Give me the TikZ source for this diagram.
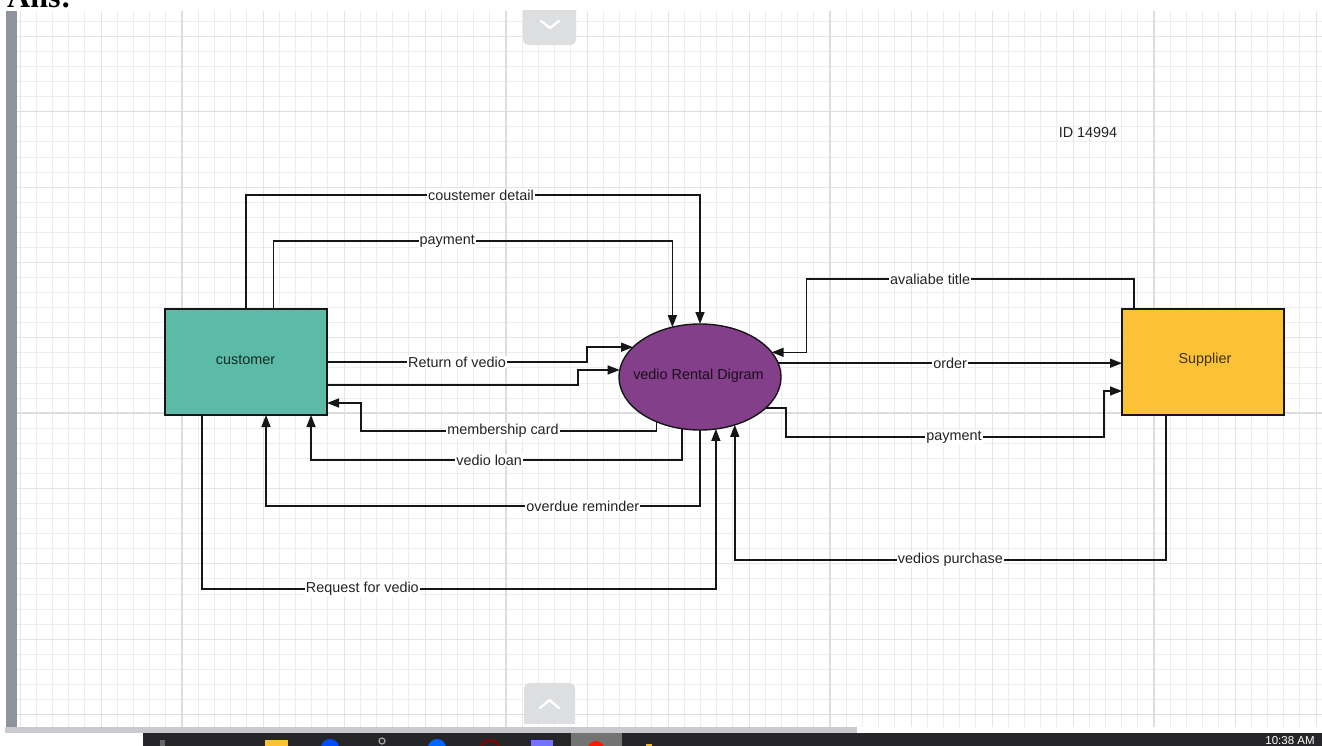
\documentclass[tikz,border=0pt]{standalone}
\usepackage{fontspec}
\setmainfont{Liberation Sans}
\newfontfamily\serifbold{Liberation Serif}
\usetikzlibrary{arrows.meta,shapes.geometric}
\definecolor{tealfill}{RGB}{91,187,166}
\definecolor{purpfill}{RGB}{131,63,137}
\definecolor{yellfill}{RGB}{251,194,56}
\definecolor{gridminor}{RGB}{237,237,237}
\definecolor{gridmed}{RGB}{229,229,229}
\definecolor{gridmajor}{RGB}{221,221,221}
\definecolor{linecol}{RGB}{22,22,22}
\definecolor{lblcol}{RGB}{35,35,35}
\definecolor{sidebar}{RGB}{143,147,158}
\definecolor{btncol}{RGB}{221,222,224}
\definecolor{thumbcol}{RGB}{200,202,207}
\definecolor{taskcol}{RGB}{38,38,40}
\begin{document}
\begin{tikzpicture}[x=1pt,y=-1pt,
  entity/.style={rectangle, draw=linecol, line width=1.4pt, minimum width=162pt, minimum height=106pt, inner sep=0pt, outer sep=0pt},
  proc/.style={ellipse, draw=linecol, line width=1.4pt, fill=purpfill, minimum width=162pt, minimum height=106pt, inner sep=0pt, outer sep=0pt},
  flow/.style={draw=linecol, line width=1.5pt, -{Triangle[length=12pt,width=9pt]}},
  lbl/.style={fill=white, inner sep=1pt, text=lblcol, font=\fontsize{14.4}{16}\selectfont},
  intext/.style={font=\fontsize{14.4}{16}\selectfont},
]
\useasboundingbox (0,0) rectangle (1322,746);
\fill[white] (0,0) rectangle (1322,746);

% cropped heading at the very top
\begin{scope}
  \clip (0,0) rectangle (1322,11);
  \node[anchor=base west, inner sep=0pt, font=\serifbold\bfseries\fontsize{32}{36}\selectfont] at (7,8) {Ans:};
\end{scope}

% grid
\foreach \k in {-10,...,70} { \draw[gridminor, line width=0.8pt] ({182+16.2*\k},11) -- ({182+16.2*\k},727); }
\foreach \k in {-6,...,40} { \draw[gridminor, line width=0.8pt] (17,{111.7+15.07*\k}) -- (1322,{111.7+15.07*\k}); }
\foreach \k in {-10,-5,...,70} { \draw[gridmed, line width=1pt] ({182+16.2*\k},11) -- ({182+16.2*\k},727); }
\foreach \k in {-5,0,...,40} { \draw[gridmed, line width=1pt] (17,{111.7+15.07*\k}) -- (1322,{111.7+15.07*\k}); }
\foreach \k in {0,20,40,60} { \draw[gridmajor, line width=1.3pt] ({182+16.2*\k},11) -- ({182+16.2*\k},727); }
\foreach \k in {0,20,40} { \draw[gridmajor, line width=1.3pt] (17,{111.7+15.07*\k}) -- (1322,{111.7+15.07*\k}); }

% left side bar
\fill[sidebar] (6,11) rectangle (17,727);

% scroll buttons
\begin{scope}
  \clip (0,11) rectangle (1322,723);
  \fill[btncol, rounded corners=6pt] (523,-5) rectangle (576,45);
  \fill[btncol, rounded corners=6pt] (524,683) rectangle (575,740);
\end{scope}
\draw[white, line width=2.4pt, line cap=round, line join=round] (541,21) -- (550,28) -- (559,21);
\draw[white, line width=2.4pt, line cap=round, line join=round] (540,708) -- (549.5,700) -- (559,708);

% scroll thumb
\fill[thumbcol] (5,727) rectangle (857,733);

% taskbar
\begin{scope}
  \clip (143,733) rectangle (1322,746);
  \fill[taskcol] (143,733) rectangle (1322,746);
  \fill[black!55!white] (571,733) rectangle (622,746);
  \fill[black!60!white] (160,740) rectangle (165,746);
  \fill[yellfill] (265,740) rectangle (288,748);
  \fill[blue!70!cyan] (330,748) circle (9);
  \draw[gray!70, line width=1.2pt] (382,741) circle (3);
  \fill[blue!60!cyan] (437,748) circle (9);
  \draw[red!55!black, line width=2pt] (490,749) circle (9);
  \fill[blue!55!white] (531,740) rectangle (553,748);
  \fill[red!80!orange] (596,749) circle (8);
  \fill[yellfill!80!brown] (646,744) rectangle (652,748);
  \node[text=white, inner sep=0pt, font=\fontsize{11.5}{12}\selectfont] at (1290,741) {10:38 AM};
\end{scope}

% nodes
\node[entity, fill=tealfill] (cust) at (246,362) {};
\node[intext, text=black, text opacity=0.78] at (245.5,360) {customer};
\node[proc] (ell) at (700,377) {};
\node[intext, text=black, text opacity=0.8] at (698.5,376) {vedio Rental Digram};
\node[entity, fill=yellfill] (sup) at (1203,362) {};
\node[intext, text=black, text opacity=0.75] at (1205,360) {Supplier};
\node[intext, text=lblcol] (idtxt) at (1088,133) {ID 14994};

% connectors customer -> process
\draw[flow] (cust.north) -- ++(0,-114) -| node[lbl, pos=0.2588] {coustemer detail} (ell.north);
\draw[flow] ([xshift=27.5pt]cust.north) -- ++(0,-68) -| node[lbl, pos=0.2177] {payment} (ell.119.4);
\draw[flow] (cust.east) -- node[lbl] {Return of vedio} ++(260,0) |- (ell.156.8);
\draw[flow] ([yshift=-23pt]cust.east) -- ++(251,0) |- (ell.175);

% connectors process -> customer
\draw[flow] (ell.226.2) |- node[lbl, pos=0.76] {membership card} (361,431) |- ([yshift=-41pt]cust.east);
\draw[flow] (ell.251.8) |- node[lbl, pos=0.76] {vedio loan} (311,460) -- ([xshift=65pt]cust.south);
\draw[flow] (ell.south) |- node[lbl, pos=0.635] {overdue reminder} (266,506) -- ([xshift=20pt]cust.south);
\draw[flow] ([xshift=-44pt]cust.south) -- ++(0,174) -| node[lbl, pos=0.156] {Request for vedio} (ell.287.1);

% supplier connectors
\draw[flow] ([xshift=-69pt]sup.north) -- ++(0,-30) -| node[lbl, pos=0.311] {avaliabe title} ([xshift=34.6pt]ell.19.3) -- (ell.19.3);
\draw[flow] (ell.10.2) -- node[lbl] {order} (ell.10.2 -| sup.west);
\draw[flow] (ell.335.8) -| (786,437) -| node[lbl, pos=0.264] {payment} ([xshift=-18pt,yshift=-29pt]sup.west) -- ([yshift=-29pt]sup.west);
\draw[flow] ([xshift=-37pt]sup.south) -- ++(0,145) -| node[lbl, pos=0.25] {vedios purchase} (ell.306.2);
\end{tikzpicture}
\end{document}
